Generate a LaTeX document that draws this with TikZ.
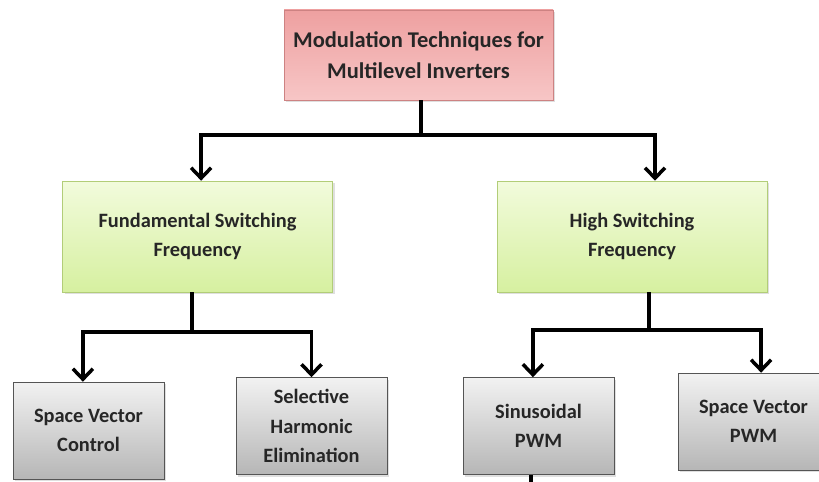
\documentclass[tikz,border=0pt]{standalone}
\usepackage{fontspec}
\setmainfont{Carlito}
\usetikzlibrary{arrows.meta,shadows}
\definecolor{pinktop}{RGB}{238,160,160}
\definecolor{pinkbot}{RGB}{247,198,198}
\definecolor{pinkline}{RGB}{205,130,130}
\definecolor{greentop}{RGB}{242,251,220}
\definecolor{greenbot}{RGB}{214,240,160}
\definecolor{greenline}{RGB}{178,205,120}
\definecolor{graytop}{RGB}{242,242,242}
\definecolor{graybot}{RGB}{182,182,182}
\definecolor{grayline}{RGB}{85,85,85}
\begin{document}
\begin{tikzpicture}[
    box_style/.style={rectangle, draw, inner sep=0pt, align=center, text=black!85,
        drop shadow={opacity=0.25, shadow xshift=0.06cm, shadow yshift=-0.06cm}},
    root_box/.style={box_style, draw=pinkline, top color=pinktop, bottom color=pinkbot,
        minimum width=6.725cm, minimum height=2.25cm,
        font=\fontsize{16}{22}\selectfont\bfseries},
    mid_box/.style={box_style, draw=greenline, top color=greentop, bottom color=greenbot,
        minimum width=6.75cm, minimum height=2.775cm,
        font=\fontsize{14.5}{21}\selectfont\bfseries},
    leaf_box/.style={box_style, draw=grayline, top color=graytop, bottom color=graybot,
        minimum width=3.775cm, minimum height=2.425cm,
        font=\fontsize{14.5}{21}\selectfont\bfseries},
    link/.style={line width=2.5pt, black},
    arr/.style={link, -{Straight Barb[length=2.6mm, width=5mm]}}
]
\useasboundingbox (0,0) rectangle (20.475,12.025);

% Noeuds
\node[root_box] (mod) at (10.4625, 10.65) {Modulation Techniques for\\Multilevel Inverters};
\node[mid_box] (fsf) at (4.9375, 6.1125) {Fundamental Switching\\Frequency};
\node[mid_box] (hsf) at (15.8, 6.1125) {High Switching\\Frequency};
\node[leaf_box] (svc) at (2.2125, 1.2625) {Space Vector\\Control};
\node[leaf_box] (she) at (7.7875, 1.375) {Selective\\Harmonic\\Elimination};
\node[leaf_box] (spwm) at (13.4625, 1.375) {Sinusoidal\\PWM};
\node[leaf_box] (svpwm) at (18.8375, 1.4875) {Space Vector\\PWM};

% Branches
\coordinate (j0) at (10.525, 8.65);
\coordinate (j1) at (4.8, 3.725);
\coordinate (j2) at (16.225, 3.775);
\coordinate (cut) at (13.275, -0.2);

\draw[link] (mod.south -| j0) -- (j0);
\draw[arr] (j0) -| ([xshift=0.9mm]fsf.north);
\draw[arr] (j0) -| ([xshift=5.75mm]hsf.north);

\draw[link] (fsf.south -| j1) -- (j1);
\draw[arr] (j1) -| ([xshift=-1.4mm]svc.north);
\draw[arr] (j1) -| (she.north);

\draw[link] (hsf.south -| j2) -- (j2);
\draw[arr] (j2) -| ([xshift=-1.4mm]spwm.north);
\draw[arr] (j2) -| ([xshift=1.9mm]svpwm.north);

\draw[link] (spwm.south -| cut) -- (cut);
\end{tikzpicture}
\end{document}
